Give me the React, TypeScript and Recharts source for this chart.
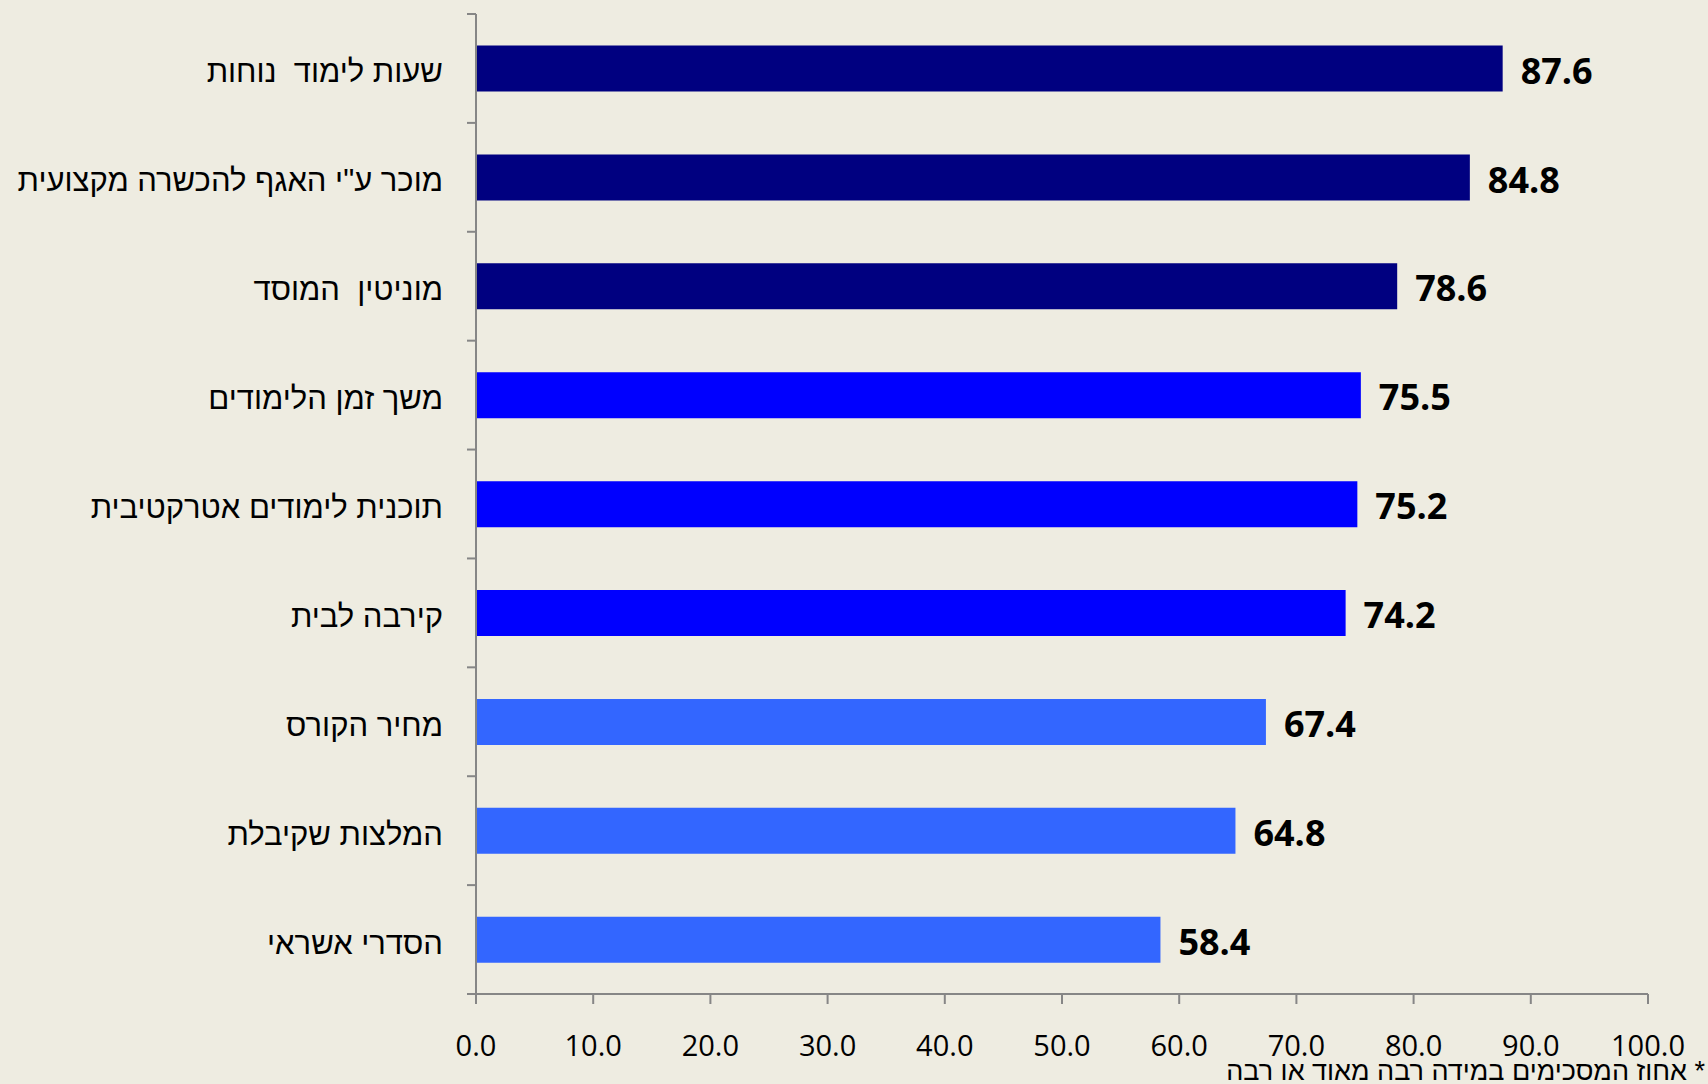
import { BarChart, Bar, XAxis, YAxis, Cell, LabelList } from 'recharts'

const categories = [
  'שעות לימוד  נוחות',
  'מוכר ע"י האגף להכשרה מקצועית',
  'מוניטין  המוסד',
  'משך זמן הלימודים',
  'תוכנית לימודים אטרקטיבית',
  'קירבה לבית',
  'מחיר הקורס',
  'המלצות שקיבלת',
  'הסדרי אשראי',
]
const values = [87.6, 84.8, 78.6, 75.5, 75.2, 74.2, 67.4, 64.8, 58.4]
const xTicks = [0, 10, 20, 30, 40, 50, 60, 70, 80, 90, 100]
const footnote = '* אחוז המסכימים במידה רבה מאוד או רבה'

const BAR_COLORS = ['#000080', '#000080', '#000080', '#0000FF', '#0000FF', '#0000FF', '#3366FF', '#3366FF', '#3366FF']
const BG = '#EEECE1'
const AXIS = '#868686'
const TICK_SIZE = 9
const TICK_MARGIN = 24

const data = categories.map((name, i) => ({ name, value: values[i] }))

function CategoryTick(props: any) {
  const { x, y, payload, index } = props
  const axisX = x + TICK_SIZE + TICK_MARGIN
  const half = payload.offset ?? 0
  return (
    <g>
      <line x1={axisX - TICK_SIZE} x2={axisX} y1={y - half} y2={y - half} stroke={AXIS} strokeWidth={2} />
      {index === categories.length - 1 && (
        <line x1={axisX - TICK_SIZE} x2={axisX} y1={y + half} y2={y + half} stroke={AXIS} strokeWidth={2} />
      )}
      <text x={x} y={y} dy="0.45em" textAnchor="end" fill="#000"
        style={{ fontFamily: '"Liberation Sans", Arial, sans-serif', fontSize: 31, whiteSpace: 'pre' }}>
        {payload.value}
      </text>
    </g>
  )
}

function ValueLabel(props: any) {
  const { x, y, width, height, value } = props
  return (
    <text x={x + width + 18} y={y + height / 2} dy="0.42em" fill="#000"
      style={{ fontSize: 36, fontWeight: 700, fontFamily: '"Open Sans", sans-serif' }}>
      {Number(value).toFixed(1)}
    </text>
  )
}

export default function App() {
  return (
    <div style={{ position: 'relative', width: 1708, height: 1084, background: BG }}>
      <style>{'body{margin:0}'}</style>
      <BarChart width={1708} height={1084} data={data} layout="vertical"
        margin={{ top: 14, right: 60, left: 0, bottom: 39 }} barCategoryGap="29%">
        <XAxis type="number" domain={[0, 100]} ticks={xTicks} interval={0}
          tickFormatter={v => v.toFixed(1)}
          stroke={AXIS} strokeWidth={2} height={51} tickSize={10} tickMargin={31}
          tick={{ fill: '#000', fontSize: 29, fontFamily: '"Open Sans", sans-serif' }} />
        <YAxis type="category" dataKey="name" width={476} interval={0}
          stroke={AXIS} strokeWidth={2} tickLine={false} tickSize={TICK_SIZE} tickMargin={TICK_MARGIN}
          tick={<CategoryTick />} />
        <Bar dataKey="value" isAnimationActive={false}>
          {data.map((d, i) => (
            <Cell key={d.name} fill={BAR_COLORS[i]} />
          ))}
          <LabelList dataKey="value" content={<ValueLabel />} />
        </Bar>
      </BarChart>
      <div dir="rtl" style={{
        position: 'absolute', right: 3, top: 1057, fontFamily: '"Liberation Sans", Arial, sans-serif',
        fontSize: 27, lineHeight: '28px', color: '#000', whiteSpace: 'nowrap',
      }}>
        {footnote}
      </div>
    </div>
  )
}
